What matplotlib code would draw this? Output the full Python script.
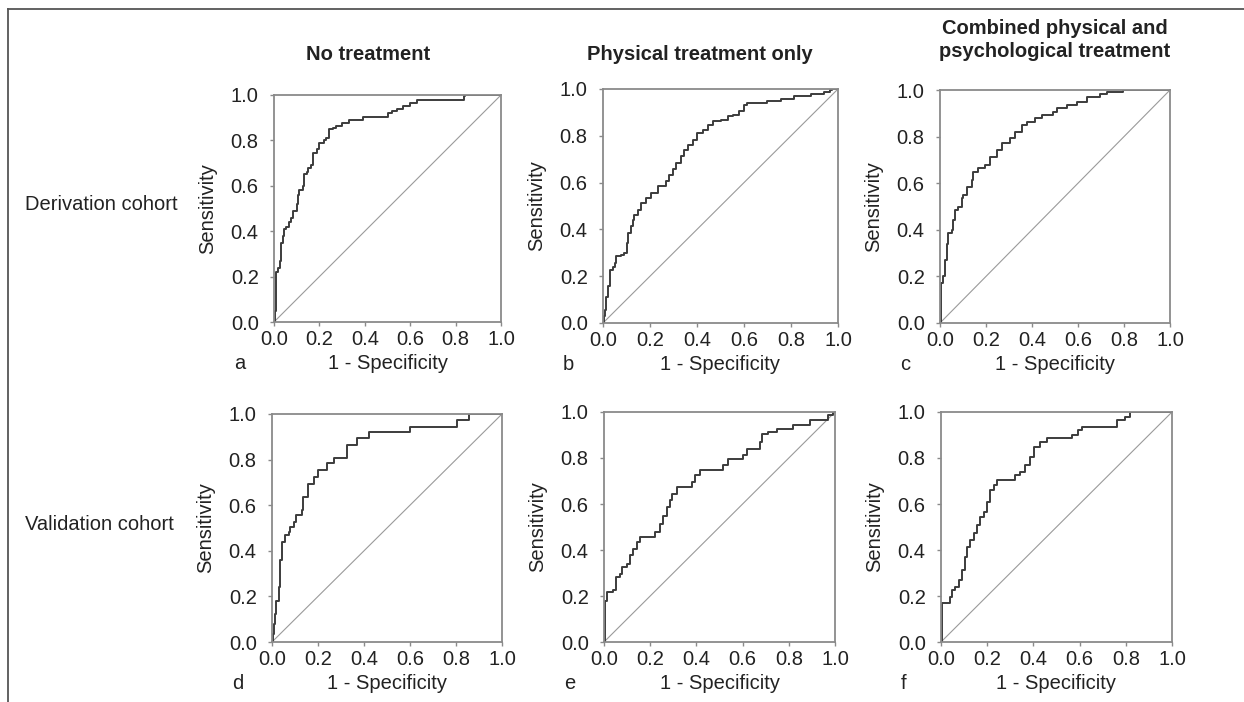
import numpy as np
import matplotlib
matplotlib.use("Agg")
import matplotlib.pyplot as plt
from matplotlib.lines import Line2D

plt.rcParams['font.family'] = ['Liberation Sans', 'DejaVu Sans']

col_titles = ["No treatment", "Physical treatment only",
              "Combined physical and\npsychological treatment"]
row_labels = ["Derivation cohort", "Validation cohort"]
panel_letters = ["a", "b", "c", "d", "e", "f"]
tick_vals = [0.0, 0.2, 0.4, 0.6, 0.8, 1.0]

# ROC step points (1 - specificity, sensitivity)
fpr_a = [0, 0.003, 0.01, 0.018, 0.025, 0.03, 0.038, 0.045, 0.055, 0.065, 0.075, 0.085, 0.1, 0.105,
         0.11, 0.128, 0.13, 0.145, 0.15, 0.165, 0.17, 0.19, 0.2, 0.22, 0.23, 0.243, 0.26, 0.275,
         0.3, 0.33, 0.39, 0.5, 0.52, 0.54, 0.57, 0.6, 0.63, 0.835, 0.84, 1.0]
tpr_a = [0, 0.05, 0.22, 0.24, 0.27, 0.35, 0.38, 0.41, 0.42, 0.44, 0.46, 0.49, 0.52, 0.56,
         0.58, 0.6, 0.65, 0.66, 0.68, 0.69, 0.745, 0.76, 0.79, 0.8, 0.81, 0.85, 0.855, 0.863,
         0.878, 0.89, 0.904, 0.92, 0.93, 0.94, 0.95, 0.966, 0.98, 0.995, 1.0, 1.0]

fpr_b = [0, 0.004, 0.007, 0.014, 0.02, 0.028, 0.042, 0.05, 0.056, 0.078, 0.09, 0.1, 0.106, 0.12,
         0.127, 0.134, 0.148, 0.162, 0.184, 0.205, 0.233, 0.268, 0.282, 0.297, 0.31, 0.332, 0.346,
         0.363, 0.381, 0.402, 0.424, 0.445, 0.466, 0.5, 0.53, 0.555, 0.579, 0.6, 0.614, 0.699,
         0.756, 0.812, 0.883, 0.94, 0.968, 0.975, 1.0]
tpr_b = [0, 0.03, 0.057, 0.11, 0.157, 0.228, 0.24, 0.256, 0.285, 0.29, 0.3, 0.34, 0.385, 0.413,
         0.44, 0.463, 0.484, 0.513, 0.534, 0.556, 0.584, 0.605, 0.634, 0.66, 0.684, 0.712, 0.74,
         0.762, 0.783, 0.812, 0.826, 0.848, 0.862, 0.869, 0.883, 0.89, 0.905, 0.933, 0.94, 0.947,
         0.957, 0.969, 0.979, 0.986, 0.997, 1.0, 1.0]

fpr_c = [0, 0.004, 0.014, 0.02, 0.029, 0.036, 0.05, 0.058, 0.065, 0.08, 0.094, 0.101, 0.116,
         0.138, 0.145, 0.167, 0.196, 0.217, 0.246, 0.268, 0.304, 0.326, 0.355, 0.377, 0.413,
         0.442, 0.493, 0.507, 0.551, 0.594, 0.638, 0.696, 0.725, 0.797, 1.0]
tpr_c = [0, 0.17, 0.2, 0.27, 0.34, 0.386, 0.4, 0.44, 0.485, 0.5, 0.535, 0.55, 0.585,
         0.614, 0.65, 0.664, 0.678, 0.714, 0.742, 0.771, 0.793, 0.821, 0.85, 0.864, 0.878,
         0.893, 0.907, 0.921, 0.936, 0.95, 0.971, 0.983, 0.993, 1.0, 1.0]

fpr_d = [0, 0.004, 0.007, 0.014, 0.019, 0.029, 0.033, 0.036, 0.043, 0.058, 0.072, 0.08, 0.094,
         0.105, 0.13, 0.135, 0.155, 0.181, 0.199, 0.239, 0.268, 0.326, 0.37, 0.42, 0.6, 0.804,
         0.855, 1.0]
tpr_d = [0, 0.037, 0.08, 0.124, 0.18, 0.24, 0.3, 0.36, 0.44, 0.47, 0.483, 0.505, 0.527,
         0.556, 0.578, 0.637, 0.695, 0.725, 0.754, 0.783, 0.805, 0.864, 0.893, 0.922, 0.944, 0.973,
         1.0, 1.0]

fpr_e = [0, 0.004, 0.014, 0.04, 0.052, 0.069, 0.076, 0.098, 0.113, 0.127, 0.141, 0.156, 0.22,
         0.242, 0.257, 0.271, 0.286, 0.293, 0.315, 0.38, 0.394, 0.416, 0.517, 0.538, 0.603, 0.617,
         0.675, 0.683, 0.711, 0.747, 0.82, 0.892, 0.971, 0.99, 1.0]
tpr_e = [0, 0.18, 0.217, 0.225, 0.283, 0.297, 0.326, 0.34, 0.377, 0.406, 0.435, 0.457, 0.478,
         0.514, 0.55, 0.587, 0.616, 0.645, 0.674, 0.696, 0.725, 0.746, 0.768, 0.797, 0.812, 0.841,
         0.87, 0.906, 0.913, 0.928, 0.942, 0.964, 0.986, 1.0, 1.0]

fpr_f = [0, 0.004, 0.04, 0.048, 0.062, 0.076, 0.09, 0.105, 0.113, 0.127, 0.141, 0.156, 0.17,
         0.185, 0.2, 0.214, 0.228, 0.242, 0.321, 0.343, 0.365, 0.386, 0.403, 0.429, 0.458, 0.566,
         0.595, 0.609, 0.761, 0.797, 0.818, 1.0]
tpr_f = [0, 0.168, 0.197, 0.226, 0.24, 0.27, 0.313, 0.371, 0.414, 0.443, 0.472, 0.509, 0.545,
         0.567, 0.61, 0.66, 0.683, 0.704, 0.726, 0.741, 0.77, 0.806, 0.849, 0.871, 0.886, 0.9,
         0.922, 0.936, 0.965, 0.98, 1.0, 1.0]

curves = [(fpr_a, tpr_a), (fpr_b, tpr_b), (fpr_c, tpr_c),
          (fpr_d, tpr_d), (fpr_e, tpr_e), (fpr_f, tpr_f)]

W, H = 1244, 702
fig = plt.figure(figsize=(W / 100, H / 100), dpi=100)

# panel boxes in pixels: left, top, right, bottom
boxes = [(274, 95, 501, 322), (603, 89, 838, 323), (940, 90, 1170, 323),
         (272, 414, 502, 642), (604, 412, 835, 642), (941, 412, 1172, 642)]

FS = 14.5
spine_col = "#8a8a8a"

for i, (l, t, r, b) in enumerate(boxes):
    ax = fig.add_axes([l / W, 1 - b / H, (r - l) / W, (b - t) / H])
    fpr, tpr = curves[i]
    ax.plot([0, 1], [0, 1], color="#9a9a9a", lw=0.8)
    ax.plot(fpr, tpr, drawstyle="steps-post", color="#3c3c3c", lw=1.4)
    ax.set_xlim(0, 1)
    ax.set_ylim(0, 1)
    ax.set_xticks(tick_vals)
    ax.set_yticks(tick_vals)
    ax.set_xticklabels(["%.1f" % v for v in tick_vals])
    ax.set_yticklabels(["%.1f" % v for v in tick_vals])
    ax.tick_params(direction="out", length=3, width=1, color=spine_col,
                   labelsize=FS, labelcolor="#222222")
    ax.tick_params(axis="y", pad=8)
    ax.tick_params(axis="x", pad=3)
    for sp in ax.spines.values():
        sp.set_color(spine_col)
        sp.set_linewidth(1.3)
    wpx, hpx = r - l, b - t
    ax.text(-66 / wpx, 0.5, "Sensitivity", rotation=90, ha="center", va="center",
            fontsize=FS, color="#222222", transform=ax.transAxes)
    ax.text(0.5, -47 / hpx, "1 - Specificity", ha="center", va="baseline",
            fontsize=FS, color="#222222", transform=ax.transAxes)
    ax.text(-40 / wpx, -47 / hpx, panel_letters[i], ha="left", va="baseline",
            fontsize=FS, color="#222222", transform=ax.transAxes)

# column titles
fig.text(368 / W, 1 - 54 / H, col_titles[0], ha="center", va="center",
         fontsize=FS, fontweight="bold", color="#222222")
fig.text(700 / W, 1 - 54 / H, col_titles[1], ha="center", va="center",
         fontsize=FS, fontweight="bold", color="#222222")
fig.text(1055 / W, 1 - 40 / H, col_titles[2], ha="center", va="center",
         fontsize=FS, fontweight="bold", color="#222222", linespacing=1.3)

# row labels
fig.text(25 / W, 1 - 204 / H, row_labels[0], ha="left", va="center", fontsize=FS, color="#222222")
fig.text(25 / W, 1 - 524 / H, row_labels[1], ha="left", va="center", fontsize=FS, color="#222222")

# open frame round the figure (top and left)
fig.add_artist(Line2D([8 / W, 8 / W], [0, 1 - 9 / H], transform=fig.transFigure,
                      color="#555555", lw=1.3))
fig.add_artist(Line2D([8 / W, 1], [1 - 9 / H, 1 - 9 / H], transform=fig.transFigure,
                      color="#555555", lw=1.3))

plt.savefig("out.png", dpi=100)
